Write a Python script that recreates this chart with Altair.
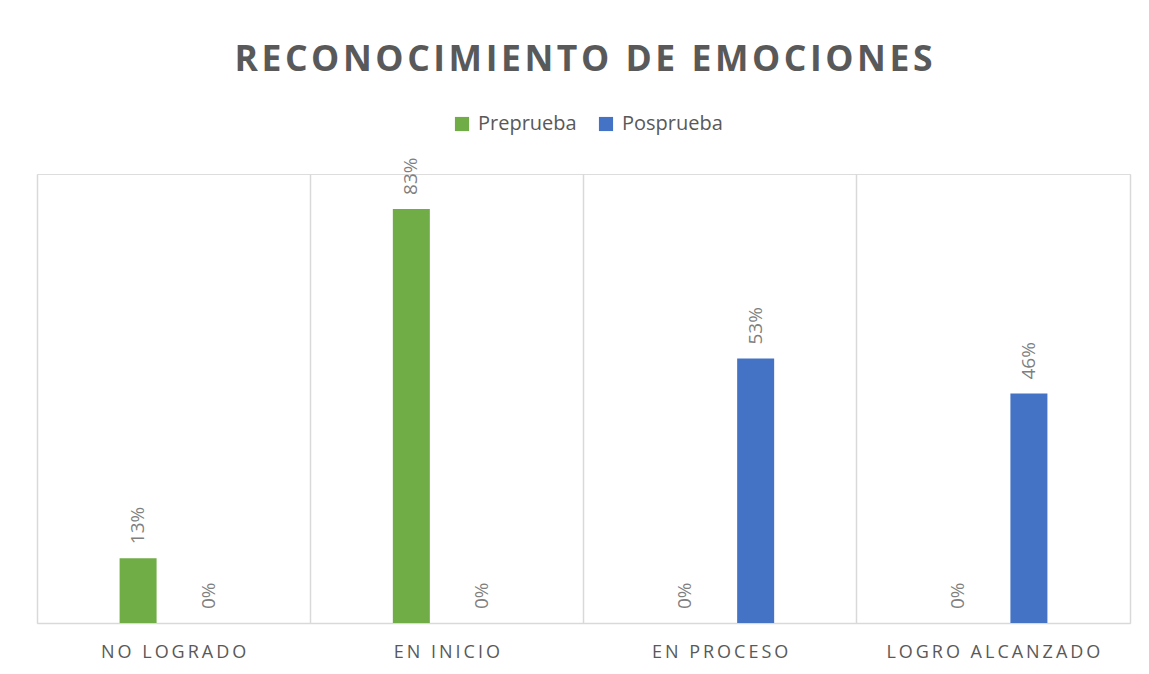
import altair as alt
import pandas as pd

categories = ["NO LOGRADO", "EN INICIO", "EN PROCESO", "LOGRO ALCANZADO"]
series = ["Preprueba", "Posprueba"]
preprueba = [13, 83, 0, 0]
posprueba = [0, 0, 53, 46]
colors = ["#70AD47", "#4472C4"]
title_text = "RECONOCIMIENTO DE EMOCIONES"

rows = []
for i, c in enumerate(categories):
    rows.append({"cat": c, "serie": "Preprueba", "val": preprueba[i]})
    rows.append({"cat": c, "serie": "Posprueba", "val": posprueba[i]})
df = pd.DataFrame(rows)
df["lbl"] = df["val"].astype(str) + "%"

FONT = "Open Sans"
GRID = "#D9D9D9"

x = alt.X("cat:N", sort=categories, title=None,
          scale=alt.Scale(paddingInner=0, paddingOuter=0),
          axis=alt.Axis(labelAngle=0, labelFont=FONT, labelFontSize=18,
                        labelColor="#595959", labelPadding=20, ticks=False,
                        labelLimit=500,
                        domainColor=GRID, domainWidth=1.5,
                        grid=True, gridColor=GRID, gridWidth=1.5, bandPosition=0,
                        labelExpr="join(split(datum.label, ''), '\u2009')"))
xo = alt.XOffset("serie:N", sort=series,
                 scale=alt.Scale(paddingInner=0.155, paddingOuter=1))
y = alt.Y("val:Q", scale=alt.Scale(domain=[0, 90]), title=None,
          axis=alt.Axis(orient="right", labels=False, ticks=False, grid=False,
                        domain=True, domainColor=GRID, domainWidth=1.5))

bars = alt.Chart(df).mark_bar(width=37).encode(
    x=x, xOffset=xo, y=y,
    color=alt.Color("serie:N", sort=series,
                    scale=alt.Scale(domain=series, range=colors),
                    legend=alt.Legend(title=None, orient="none", direction="horizontal",
                                      legendX=415, legendY=-60,
                                      labelFont=FONT, labelFontSize=20,
                                      labelColor="#595959", symbolType="square",
                                      symbolSize=200, symbolStrokeWidth=0,
                                      columnPadding=19, labelOffset=6)),
)

labels = alt.Chart(df).mark_text(angle=270, align="left", baseline="middle",
                                 dx=14, font=FONT, fontSize=19,
                                 color="#7F7F7F").encode(
    x=x, xOffset=xo, y=y, text="lbl:N")

chart = alt.layer(bars, labels).properties(
    width=1093, height=449,
    title=alt.TitleParams(
        alt.ExprRef("join(split('" + title_text + "', ''), '\u200a')"),
        font=FONT, fontSize=35.5, fontWeight="bold", color="#595959",
        anchor="middle", offset=36),
    padding={"left": 29, "top": 34, "right": 10, "bottom": 10},
).configure_view(stroke=None).configure(background="white")

chart.save("out.html", embed_options={"renderer": "svg", "actions": False})
